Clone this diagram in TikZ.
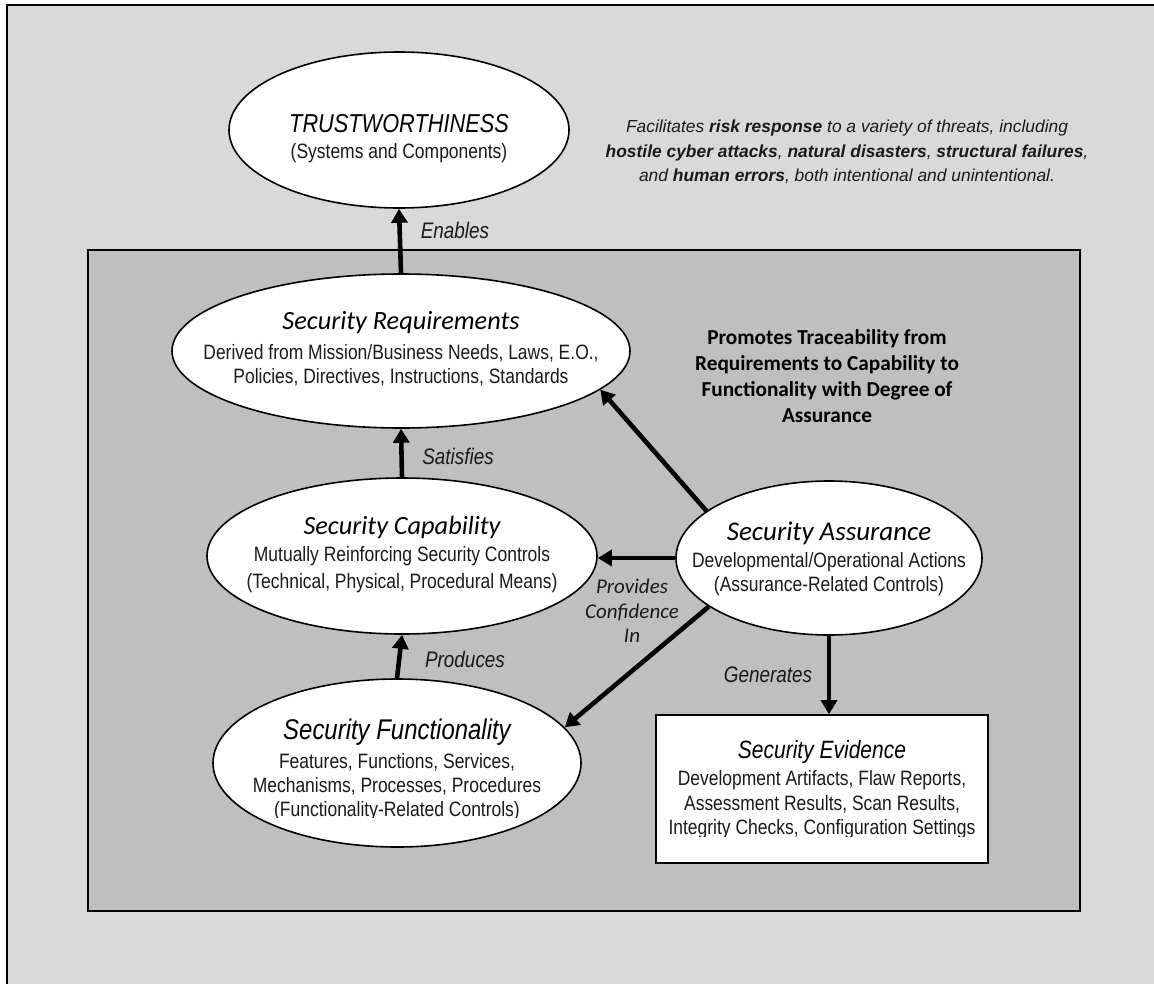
\documentclass[tikz,border=0pt]{standalone}
\usepackage{fontspec}
\setmainfont{Liberation Sans}
\newfontfamily\narrowfont[FakeStretch=0.84]{Liberation Sans}
\newfontfamily\calfont{Carlito}
\usetikzlibrary{shapes.geometric,arrows.meta}
\definecolor{outergray}{HTML}{D9D9D9}
\definecolor{innergray}{HTML}{BFBFBF}
\definecolor{txtgray}{HTML}{1A1A1A}
\begin{document}
\begin{tikzpicture}[x=1pt,y=-1pt,
  oval/.style={ellipse,draw=black,line width=1.6pt,fill=white,inner sep=0pt},
  arr/.style={line width=4.6pt,-{Triangle[length=14pt,width=16pt]}},
  body/.style={align=center,inner sep=0pt,font=\narrowfont\fontsize{20.8}{23.5}\selectfont,text=txtgray},
  caltitle/.style={inner sep=0pt,font=\calfont\itshape\fontsize{26.3}{28}\selectfont,text=black},
  nartitle/.style={inner sep=0pt,font=\narrowfont\itshape\fontsize{28.5}{30}\selectfont,text=black},
  lbl/.style={inner sep=0pt,align=center,font=\narrowfont\itshape\fontsize{22.5}{24}\selectfont,text=txtgray},
  callbl/.style={inner sep=0pt,align=center,font=\calfont\itshape\fontsize{21}{24.5}\selectfont,text=txtgray}]
\useasboundingbox (0,0) rectangle (1154,983);
\clip (0,0) rectangle (1154,983);
% frames
\fill[white] (0,0) rectangle (1154,983);
\draw[line width=2pt,fill=outergray] (7,5) rectangle (1180,1010);
\draw[line width=2pt,fill=innergray] (88,250) rectangle (1080,911);

% trustworthiness
\node[oval,minimum width=340pt,minimum height=156pt] (tw) at (399,130) {};
\node[inner sep=0pt,font=\narrowfont\itshape\fontsize{25.9}{28}\selectfont] (twt) at (399,124) {TRUSTWORTHINESS};
\node[body] (twb) at (399,153) {(Systems and Components)};

% facilitates text
\node[inner sep=0pt,align=center,font=\itshape\fontsize{17.4}{24.5}\selectfont,text=txtgray] (fac) at (847,152)
 {Facilitates \textbf{risk response} to a variety of threats, including\\
  \textbf{hostile cyber attacks}, \textbf{natural disasters}, \textbf{structural failures},\\
  and \textbf{human errors}, both intentional and unintentional.};

% security requirements
\node[oval,minimum width=458pt,minimum height=154pt] (sr) at (401,351) {};
\node[caltitle] (srt) at (401,323) {Security Requirements};
\node[body] (srb) at (401,365.5) {Derived from Mission/Business Needs, Laws, E.O.,\\Policies, Directives, Instructions, Standards};

% promotes text
\node[inner sep=0pt,align=center,font=\calfont\bfseries\fontsize{21.3}{26}\selectfont,text=black] (prom) at (827,376)
 {Promotes Traceability from\\Requirements to Capability to\\Functionality with Degree of\\Assurance};

% security capability
\node[oval,minimum width=390pt,minimum height=156pt] (sc) at (402,556) {};
\node[caltitle] (sct) at (402,527) {Security Capability};
\node[body,font=\narrowfont\fontsize{20.8}{27}\selectfont] (scb) at (402,569.5) {Mutually Reinforcing Security Controls\\(Technical, Physical, Procedural Means)};

% security assurance
\node[oval,minimum width=306pt,minimum height=154pt] (sa) at (829,558) {};
\node[caltitle,font=\calfont\itshape\fontsize{27}{28}\selectfont] (sat) at (829,533) {Security Assurance};
\node[body,font=\narrowfont\fontsize{20.8}{24}\selectfont] (sab) at (829,574) {Developmental/Operational Actions\\(Assurance-Related Controls)};

% security functionality
\node[oval,minimum width=368pt,minimum height=168pt] (sf) at (397,763) {};
\node[nartitle] (sft) at (397,732) {Security Functionality};
\begin{scope}
\clip (220,740) rectangle (575,817);
\node[body,font=\narrowfont\fontsize{20.8}{24}\selectfont] (sfb) at (397,787) {Features, Functions, Services,\\Mechanisms, Processes, Procedures\\(Functionality-Related Controls)};
\end{scope}

% security evidence
\node[draw=black,line width=1.6pt,fill=white,minimum width=332pt,minimum height=148pt,inner sep=0pt] (se) at (822,789) {};
\node[nartitle,font=\narrowfont\itshape\fontsize{25}{26}\selectfont] (set) at (822,752) {Security Evidence};
\begin{scope}
\clip (660,765) rectangle (985,836);
\node[body,font=\narrowfont\fontsize{20.8}{24.5}\selectfont] (seb) at (822,805) {Development Artifacts, Flaw Reports,\\Assessment Results, Scan Results,\\Integrity Checks, Configuration Settings};
\end{scope}

% connectors
\draw[arr] (sr.north) -- (tw.south);
\draw[arr] (sc.north) -- (sr.south);
\draw[arr] (sf.north) -- (sc.south);
\draw[arr] (sa.159) -- (sr.-11);
\draw[arr] (sa.west) -- (sa.west -| sc.east);
\draw[arr] (sa.202) -- (sf.12);
\draw[arr] (sa.south) -- (sa.south |- se.north);

% connector labels
\node[lbl] (len) at (455,230) {Enables};
\node[lbl] (lsat) at (458,456) {Satisfies};
\node[lbl] (lpro) at (465,659) {Produces};
\node[lbl] (lgen) at (768,675) {Generates};
\node[callbl] (lpci) at (632,611) {Provides\\Confidence\\In};
\end{tikzpicture}
\end{document}
